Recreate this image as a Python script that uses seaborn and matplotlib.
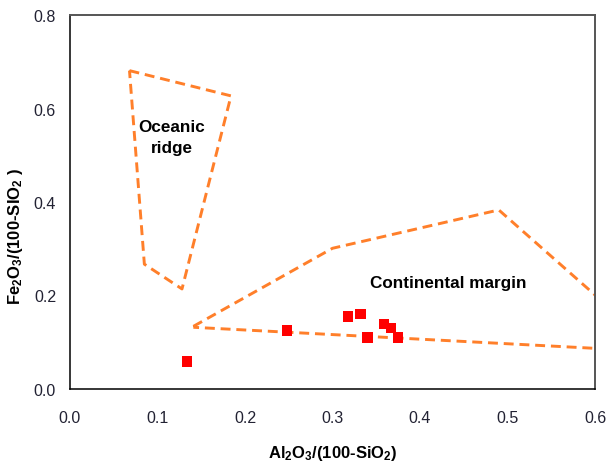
import pandas as pd
import numpy as np
import matplotlib
matplotlib.use("Agg")
import matplotlib.pyplot as plt
import seaborn as sns

# field boundaries
ridge_x = [0.068, 0.184, 0.128, 0.085, 0.068]
ridge_y = [0.681, 0.627, 0.214, 0.267, 0.681]
margin_x = [0.141, 0.300, 0.490, 0.620, 0.620, 0.141]
margin_y = [0.134, 0.301, 0.383, 0.168, 0.085, 0.132]

# samples
sample_x = [0.134, 0.248, 0.318, 0.332, 0.340, 0.359, 0.367, 0.375]
sample_y = [0.059, 0.125, 0.155, 0.160, 0.110, 0.139, 0.130, 0.110]

x_ticks = [0.0, 0.1, 0.2, 0.3, 0.4, 0.5, 0.6]
y_ticks = [0.0, 0.2, 0.4, 0.6, 0.8]

sns.set_style("white")
plt.rcParams["font.family"] = ["Liberation Sans", "DejaVu Sans"]
plt.rcParams["mathtext.default"] = "regular"

df_ridge = pd.DataFrame({"x": ridge_x, "y": ridge_y})
df_margin = pd.DataFrame({"x": margin_x, "y": margin_y})
df_samples = pd.DataFrame({"x": sample_x, "y": sample_y})

fig = plt.figure(figsize=(6.07, 4.64), dpi=100)
ax = fig.add_axes([0.1153, 0.1595, 0.8650, 0.8060])

line_kw = dict(color="#FF7F2A", linewidth=2.1, dashes=(3.4, 2.0), estimator=None, sort=False, ax=ax)
sns.lineplot(data=df_ridge, x="x", y="y", **line_kw)
sns.lineplot(data=df_margin, x="x", y="y", **line_kw)
sns.scatterplot(data=df_samples, x="x", y="y", marker="s", s=55, color="#FF0000",
                edgecolor="none", ax=ax, zorder=3)

ax.set_xlim(0, 0.6)
ax.set_ylim(0, 0.8)
ax.set_xticks(x_ticks)
ax.set_yticks(y_ticks)
ax.set_xticklabels([f"{v:.1f}" for v in x_ticks])
ax.set_yticklabels([f"{v:.1f}" for v in y_ticks])
ax.tick_params(axis="both", direction="out", length=5, width=1, color="black",
               labelsize=11.5, labelcolor="#222233", pad=5)
ax.tick_params(axis="x", pad=10)

for side in ["left", "bottom"]:
    ax.spines[side].set_color("black")
    ax.spines[side].set_linewidth(1.1)
for side in ["top", "right"]:
    ax.spines[side].set_color("#555555")
    ax.spines[side].set_linewidth(1.4)

ax.text(0.116, 0.539, "Oceanic\nridge", ha="center", va="center", color="black",
        fontsize=12.3, fontweight="bold", linespacing=1.45)
ax.text(0.432, 0.227, "Continental margin", ha="center", va="center", color="black",
        fontsize=12.3, fontweight="bold")

ax.set_xlabel("Al$_2$O$_3$/(100-SiO$_2$)", fontsize=12, fontweight="bold", color="black")
ax.set_ylabel("Fe$_2$O$_3$/(100-SIO$_2$ )", fontsize=12, fontweight="bold", color="black")
ax.xaxis.set_label_coords(0.5, -0.145)
ax.yaxis.set_label_coords(-0.085, 0.41)

plt.savefig("out.png", dpi=100)
